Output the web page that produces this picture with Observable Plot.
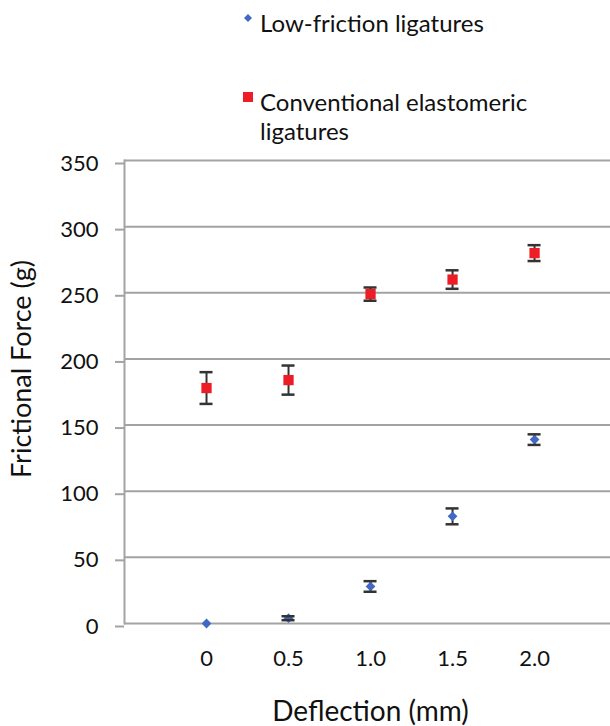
<!DOCTYPE html>
<html>
<head>
<meta charset="utf-8">
<script src="https://cdn.jsdelivr.net/npm/d3@7"></script>
<script src="https://cdn.jsdelivr.net/npm/@observablehq/plot@0.6"></script>
<style>
  html, body { margin: 0; padding: 0; background: #fff; }
  #wrap { position: relative; width: 610px; height: 726px; font-family: Lato, "Open Sans", sans-serif; color: #111; }
  #legend { position: absolute; left: 0; top: 0; width: 610px; height: 150px; z-index: 2; }
  .item { position: absolute; left: 260px; font-size: 24px; line-height: 29px; }
  .sym { position: absolute; }
  #chart { position: absolute; left: 0; top: 120px; z-index: 1; }
  #chart svg { display: block; }
</style>
</head>
<body>
<div id="wrap">
  <div id="chart"></div>
  <div id="legend"></div>
</div>
<script>
const deflection = [0, 0.5, 1.0, 1.5, 2.0];
const xTickLabels = ["0", "0.5", "1.0", "1.5", "2.0"];
const yTicks = [0, 50, 100, 150, 200, 250, 300, 350];
const seriesNames = ["Low-friction ligatures", "Conventional elastomeric ligatures"];
const lowFriction = [0, 4, 28, 81, 139];
const lowFrictionErr = [0, 1.5, 4, 6, 4];
const conventional = [178, 184, 249, 260, 280];
const conventionalErr = [12, 11, 5, 7, 6];
const colors = ["#4169c4", "#ee1c24"];
const xTitle = "Deflection (mm)";
const yTitle = "Frictional Force (g)";

const rows = [];
deflection.forEach((d, i) => {
  rows.push({x: d, y: lowFriction[i], e: lowFrictionErr[i], s: seriesNames[0]});
  rows.push({x: d, y: conventional[i], e: conventionalErr[i], s: seriesNames[1]});
});
const low = rows.filter(r => r.s === seriesNames[0]);
const conv = rows.filter(r => r.s === seriesNames[1]);
const font = "Lato, 'Open Sans', sans-serif";

const plot = Plot.plot({
  width: 610,
  height: 606,
  marginTop: 40,
  marginBottom: 103,
  marginLeft: 124,
  marginRight: 0,
  style: {fontFamily: font, color: "#111", background: "transparent"},
  x: {domain: [-0.5, 2.463], axis: null},
  y: {domain: [0, 350], axis: null},
  marks: [
    Plot.gridY(yTicks, {stroke: "#a3a3a3", strokeOpacity: 1, strokeWidth: 2}),
    Plot.axisY(yTicks, {tickSize: 9, tickPadding: 17, stroke: "#a3a3a3", strokeWidth: 2, fontSize: 22, dy: 3, fill: "#111", label: null}),
    Plot.frame({anchor: "left", stroke: "#a3a3a3", strokeWidth: 2}),
    Plot.axisX(deflection, {tickSize: 0, tickPadding: 27, fontSize: 22, fill: "#111", label: null,
      tickFormat: d => xTickLabels[deflection.indexOf(d)]}),
    Plot.ruleX(rows.filter(r => r.e > 0), {x: "x", y1: r => r.y - r.e, y2: r => r.y + r.e, stroke: "#333", strokeWidth: 2}),
    Plot.dot(low, {x: "x", y: "y", symbol: "diamond2", r: 4.4, fill: colors[0]}),
    Plot.dot(conv, {x: "x", y: "y", symbol: "square", r: 5.8, fill: colors[1]}),
    Plot.ruleY(rows.filter(r => r.e > 0), {y: r => r.y + r.e, x1: "x", x2: "x", insetLeft: -6.5, insetRight: -6.5, stroke: "#333", strokeWidth: 2.5}),
    Plot.ruleY(rows.filter(r => r.e > 0), {y: r => r.y - r.e, x1: "x", x2: "x", insetLeft: -6.5, insetRight: -6.5, stroke: "#333", strokeWidth: 2.5}),
    Plot.text([yTitle], {frameAnchor: "left", text: d => d, rotate: -90, dx: -102, dy: -23, fontSize: 27, fill: "#111", textAnchor: "middle", lineAnchor: "middle"}),
    Plot.text([xTitle], {frameAnchor: "bottom", text: d => d, dx: 3, dy: 89, fontSize: 28, fill: "#111", textAnchor: "middle", lineAnchor: "middle"})
  ]
});
document.getElementById("chart").appendChild(plot);

// legend
const legend = document.getElementById("legend");
function addSym(type, color, cx, cy) {
  const s = document.createElementNS("http://www.w3.org/2000/svg", "svg");
  s.setAttribute("width", 14); s.setAttribute("height", 14);
  s.setAttribute("class", "sym");
  s.style.left = (cx - 7) + "px"; s.style.top = (cy - 7) + "px";
  const p = document.createElementNS("http://www.w3.org/2000/svg", "path");
  p.setAttribute("d", type === "diamond" ? "M7,3L11,7L7,11L3,7Z" : "M2,2H12V12H2Z");
  p.setAttribute("fill", color);
  s.appendChild(p);
  legend.appendChild(s);
}
addSym("diamond", colors[0], 248, 18);
addSym("square", colors[1], 248, 97);
const t1 = document.createElement("div");
t1.className = "item"; t1.style.top = "8px"; t1.textContent = seriesNames[0];
legend.appendChild(t1);
const t2 = document.createElement("div");
t2.className = "item"; t2.style.top = "87px"; t2.style.width = "320px";
t2.innerHTML = "Conventional elastomeric<br>ligatures";
legend.appendChild(t2);
</script>
</body>
</html>
